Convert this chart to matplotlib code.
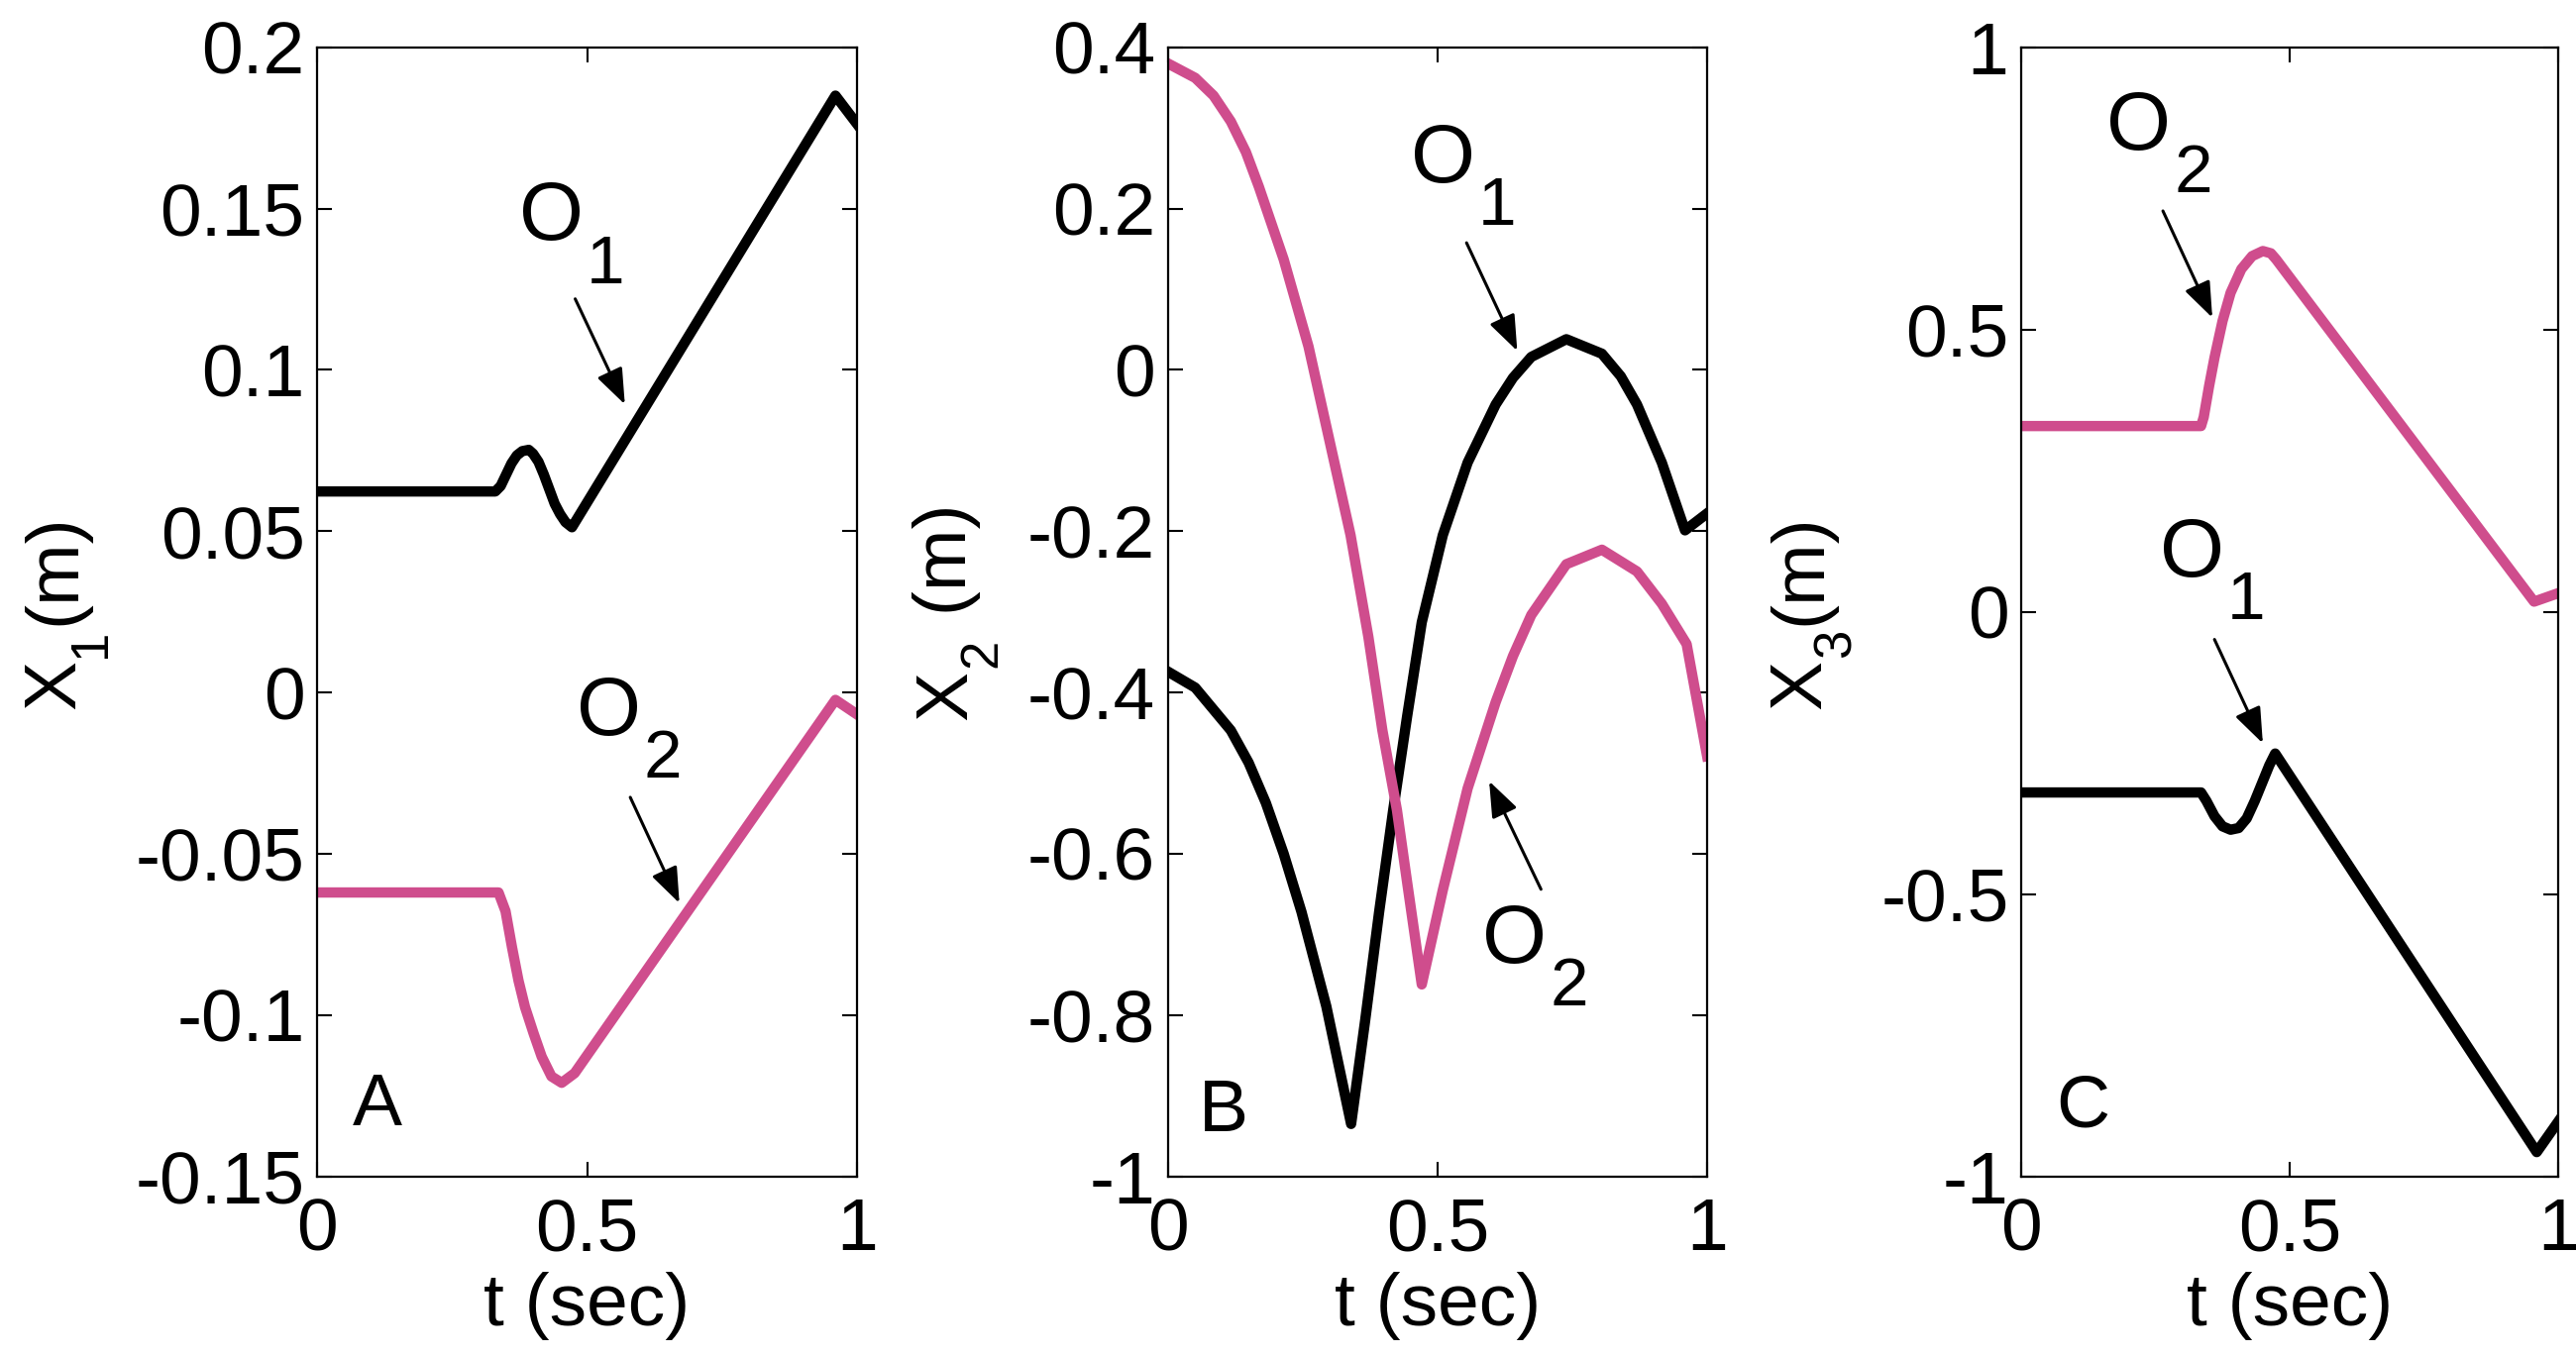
import matplotlib
matplotlib.use('Agg')
import matplotlib.pyplot as plt

plt.rcParams['font.family'] = ['Liberation Sans', 'DejaVu Sans']
plt.rcParams['axes.unicode_minus'] = False

PINK = '#CF4D8D'

# ---------------- data ----------------
# Panel A: X1 (m)
a_t_o1 = [0.0, 0.330, 0.340, 0.350, 0.360, 0.370, 0.380, 0.392, 0.400, 0.410, 0.420, 0.430,
          0.440, 0.450, 0.460, 0.472, 0.960, 1.0]
a_v_o1 = [0.0623, 0.0623, 0.064, 0.0675, 0.071, 0.0735, 0.0748, 0.0752, 0.074, 0.0715, 0.0675, 0.063,
          0.0585, 0.0553, 0.0528, 0.0512, 0.1850, 0.1762]
a_t_o2 = [0.0, 0.336, 0.349, 0.361, 0.373, 0.385, 0.401, 0.416, 0.434, 0.453, 0.477, 0.960, 1.0]
a_v_o2 = [-0.0620, -0.0620, -0.0678, -0.079, -0.0893, -0.0975, -0.1057, -0.1129, -0.119, -0.121,
          -0.118, -0.0023, -0.0068]

# Panel B: X2 (m)
b_t_o1 = [0.0, 0.051, 0.117, 0.150, 0.182, 0.215, 0.248, 0.294, 0.340, 0.366, 0.392, 0.418, 0.444, 0.471,
          0.510, 0.556, 0.608, 0.640, 0.674, 0.739, 0.805, 0.840, 0.870, 0.916, 0.959, 1.0]
b_v_o1 = [-0.374, -0.394, -0.447, -0.487, -0.537, -0.600, -0.672, -0.789, -0.935, -0.807, -0.672, -0.546,
          -0.429, -0.313, -0.205, -0.115, -0.043, -0.010, 0.016, 0.038, 0.020, -0.008, -0.043, -0.115,
          -0.199, -0.178]
b_t_o2 = [0.0, 0.051, 0.085, 0.117, 0.145, 0.169, 0.215, 0.261, 0.300, 0.339, 0.372, 0.398, 0.425, 0.444,
          0.471, 0.510, 0.556, 0.608, 0.640, 0.674, 0.739, 0.805, 0.870, 0.916, 0.962, 1.0]
b_v_o2 = [0.380, 0.362, 0.340, 0.308, 0.270, 0.227, 0.137, 0.029, -0.088, -0.205, -0.331, -0.447, -0.546,
          -0.636, -0.762, -0.645, -0.519, -0.412, -0.355, -0.304, -0.241, -0.223, -0.250, -0.290, -0.340,
          -0.479]

# Panel C: X3 (m)
c_t_o1 = [0.0, 0.335, 0.345, 0.360, 0.375, 0.390, 0.405, 0.420, 0.435, 0.450, 0.462, 0.473, 0.960, 1.0]
c_v_o1 = [-0.320, -0.320, -0.335, -0.362, -0.380, -0.386, -0.383, -0.366, -0.335, -0.300, -0.272, -0.251,
          -0.957, -0.903]
c_t_o2 = [0.0, 0.335, 0.340, 0.350, 0.360, 0.375, 0.390, 0.410, 0.430, 0.450, 0.465, 0.475, 0.955, 1.0]
c_v_o2 = [0.329, 0.329, 0.345, 0.400, 0.450, 0.515, 0.565, 0.607, 0.630, 0.639, 0.635, 0.624, 0.018, 0.033]

x_ticks = [0, 0.5, 1]
x_tick_labels = ['0', '0.5', '1']
a_yticks = [-0.15, -0.1, -0.05, 0, 0.05, 0.1, 0.15, 0.2]
a_ytick_labels = ['-0.15', '-0.1', '-0.05', '0', '0.05', '0.1', '0.15', '0.2']
b_yticks = [-1, -0.8, -0.6, -0.4, -0.2, 0, 0.2, 0.4]
b_ytick_labels = ['-1', '-0.8', '-0.6', '-0.4', '-0.2', '0', '0.2', '0.4']
c_yticks = [-1, -0.5, 0, 0.5, 1]
c_ytick_labels = ['-1', '-0.5', '0', '0.5', '1']

panels = [
    dict(pos=[0.1231, 0.1331, 0.2096, 0.8321], ylim=(-0.15, 0.2),
         yt=a_yticks, ytl=a_ytick_labels, ylabel=('X', '1', '(m)'), ylab_x=-0.4495,
         letter='A', letter_xy=(0.066, 0.045),
         o1=(a_t_o1, a_v_o1), o2=(a_t_o2, a_v_o2),
         notes=[('1', (0.374, 0.1402), (0.478, 0.1220), (0.570, 0.0893)),
                ('2', (0.480, -0.0132), (0.580, -0.0325), (0.671, -0.0653))]),
    dict(pos=[0.4533, 0.1331, 0.2094, 0.8321], ylim=(-1, 0.4),
         yt=b_yticks, ytl=b_ytick_labels, ylabel=('X', '2', ' (m)'), ylab_x=-0.3737,
         letter='B', letter_xy=(0.058, 0.040),
         o1=(b_t_o1, b_v_o1), o2=(b_t_o2, b_v_o2),
         notes=[('1', (0.451, 0.233), (0.554, 0.1575), (0.648, 0.0235)),
                ('2', (0.583, -0.735), (0.692, -0.644), (0.596, -0.510))]),
    dict(pos=[0.7846, 0.1331, 0.2085, 0.8321], ylim=(-1, 1),
         yt=c_yticks, ytl=c_ytick_labels, ylabel=('X', '3', '(m)'), ylab_x=-0.3745,
         letter='C', letter_xy=(0.066, 0.044),
         o1=(c_t_o1, c_v_o1), o2=(c_t_o2, c_v_o2),
         notes=[('2', (0.159, 0.819), (0.264, 0.710), (0.356, 0.521)),
                ('1', (0.258, 0.063), (0.360, -0.049), (0.450, -0.233))]),
]

# Arial / Liberation Sans advance widths (em) for the label composition
ADV = {'X': 0.667, '1': 0.556, '2': 0.556, '3': 0.556, ' ': 0.278, '(': 0.333, 'm': 0.833, ')': 0.333}


def sub_ylabel(ax, xb, main, sub, rest, fs=54, sfs=38, drop=22, gap=2):
    w_main = sum(ADV[c] for c in main) * fs
    w_sub = sum(ADV[c] for c in sub) * sfs
    w_rest = sum(ADV[c] for c in rest) * fs
    total = w_main + gap + w_sub + gap + w_rest
    y0 = -total / 2
    kw = dict(xy=(xb, 0.5), xycoords='axes fraction', textcoords='offset points',
              rotation=90, rotation_mode='anchor', ha='left', va='baseline')
    ax.annotate(main, xytext=(0, y0), fontsize=fs, **kw)
    ax.annotate(sub, xytext=(drop, y0 + w_main + gap), fontsize=sfs, **kw)
    ax.annotate(rest, xytext=(0, y0 + w_main + gap + w_sub + gap), fontsize=fs, **kw)


fig = plt.figure(figsize=(26, 13.7), dpi=100)

for p in panels:
    ax = fig.add_axes(p['pos'])
    ax.plot(p['o1'][0], p['o1'][1], color='black', lw=7.5, solid_joinstyle='round')
    ax.plot(p['o2'][0], p['o2'][1], color=PINK, lw=7.5, solid_joinstyle='round')
    ax.set_xlim(0, 1)
    ax.set_ylim(*p['ylim'])
    ax.set_xticks(x_ticks)
    ax.set_xticklabels(x_tick_labels)
    ax.set_yticks(p['yt'])
    ax.set_yticklabels(p['ytl'])
    ax.tick_params(direction='in', top=True, right=True, length=11, width=1.5,
                   labelsize=54, colors='black')
    ax.tick_params(axis='x', pad=15)
    ax.tick_params(axis='y', pad=9)
    for s in ax.spines.values():
        s.set_linewidth(1.6)
    sub_ylabel(ax, p['ylab_x'], *p['ylabel'])
    ax.text(0.5, -0.132, 't (sec)', transform=ax.transAxes, ha='center',
            va='baseline', fontsize=54)
    ax.text(p['letter_xy'][0], p['letter_xy'][1], p['letter'], transform=ax.transAxes,
            ha='left', va='baseline', fontsize=54)
    for sub, opos, astart, aend in p['notes']:
        ax.text(opos[0], opos[1], 'O', fontsize=60, ha='left', va='baseline')
        ax.annotate(sub, xy=opos, xycoords='data', xytext=(49, -31),
                    textcoords='offset points', fontsize=50, ha='left', va='baseline')
        ax.annotate('', xy=aend, xytext=astart, xycoords='data', textcoords='data',
                    arrowprops=dict(arrowstyle='-|>,head_length=1.1,head_width=0.42',
                                    mutation_scale=20, lw=2.2, color='black',
                                    shrinkA=0, shrinkB=0))

fig.savefig('out.png', dpi=100, facecolor='white')
